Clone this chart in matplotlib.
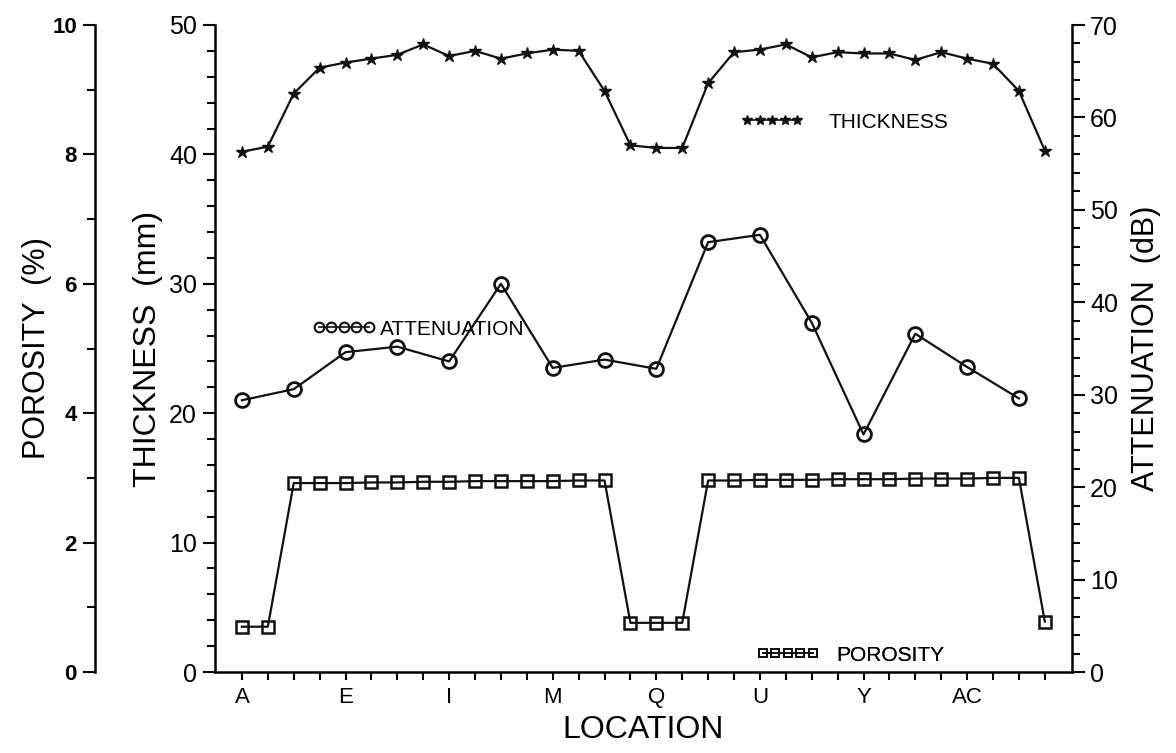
import matplotlib
matplotlib.use("Agg")
import matplotlib.pyplot as plt
from matplotlib.lines import Line2D
from matplotlib.ticker import MultipleLocator

plt.rcParams['font.family'] = ['Liberation Sans Narrow', 'Liberation Sans', 'DejaVu Sans']

# location index 0 = A ... 31 = AF
loc_idx = list(range(32))
tick_names = ['A', 'E', 'I', 'M', 'Q', 'U', 'Y', 'AC']

thickness = [40.2, 40.6, 44.7, 46.7, 47.1, 47.4, 47.7, 48.5, 47.6, 48.0,
             47.4, 47.8, 48.1, 48.0, 44.9, 40.7, 40.5, 40.5, 45.5, 47.9,
             48.1, 48.5, 47.5, 47.9, 47.8, 47.8, 47.3, 47.9, 47.4, 47.0,
             44.9, 40.3]

att_idx = list(range(0, 31, 2))
attenuation = [29.4, 30.6, 34.6, 35.2, 33.6, 42.0, 32.9, 33.8,
               32.8, 46.5, 47.3, 37.8, 25.7, 36.6, 33.0, 29.6]

porosity = [0.70, 0.70, 2.92, 2.92, 2.92, 2.93, 2.93, 2.94, 2.94, 2.95,
            2.95, 2.95, 2.95, 2.96, 2.96, 0.76, 0.76, 0.76, 2.96, 2.96,
            2.97, 2.97, 2.97, 2.98, 2.98, 2.98, 2.99, 2.99, 2.99, 3.00,
            3.00, 0.78]

fig = plt.figure(figsize=(11.76, 7.53), dpi=100)
ax = fig.add_axes([215/1176, 81/753, 857/1176, 647/753])
ax_a = ax.twinx()
ax_p = ax.twinx()

lw = 1.6
ax.plot(loc_idx, thickness, '-', color='#111111', lw=lw, marker='*', ms=9,
        mfc='#111111', mec='#111111')
ax_a.plot(att_idx, attenuation, '-', color='#111111', lw=lw, marker='o', ms=10,
          mfc='none', mec='#111111', mew=2)
ax_p.plot(loc_idx, porosity, '-', color='#111111', lw=lw, marker='s', ms=9,
          mfc='none', mec='#111111', mew=1.8)

ax.set_xlim(-1.04, 32.05)
ax.set_ylim(0, 50)
ax_a.set_ylim(0, 70)
ax_p.set_ylim(0, 10)

ax.set_xticks(loc_idx)
ax.set_xticklabels([tick_names[i // 4] if i % 4 == 0 and i // 4 < len(tick_names) else '' for i in loc_idx],
                   fontsize=16)
ax.tick_params(axis='x', direction='out', length=6, width=1.5, pad=5)

ax.yaxis.set_major_locator(MultipleLocator(10))
ax.yaxis.set_minor_locator(MultipleLocator(2))
ax.tick_params(axis='y', which='major', direction='out', length=9, width=1.5, labelsize=18, pad=4)
ax.tick_params(axis='y', which='minor', direction='out', length=6, width=1.5)

ax_a.yaxis.set_major_locator(MultipleLocator(10))
ax_a.yaxis.set_minor_locator(MultipleLocator(2))
ax_a.tick_params(axis='y', which='major', direction='out', length=9, width=1.5, labelsize=18, pad=4)
ax_a.tick_params(axis='y', which='minor', direction='out', length=6, width=1.5)

ax_p.spines['left'].set_position(('axes', -0.14))
ax_p.spines['left'].set_visible(True)
ax_p.yaxis.set_label_position('left')
ax_p.yaxis.set_ticks_position('left')
ax_p.yaxis.set_major_locator(MultipleLocator(2))
ax_p.yaxis.set_minor_locator(MultipleLocator(1))
ax_p.tick_params(axis='y', which='major', direction='out', length=9, width=1.5, labelsize=16, pad=4)
ax_p.tick_params(axis='y', which='minor', direction='out', length=6, width=1.5)
for t in ax_p.get_yticklabels():
    t.set_fontweight('bold')

for a in (ax, ax_a, ax_p):
    a.spines['top'].set_visible(False)
    for s in a.spines.values():
        s.set_linewidth(1.8)
ax.spines['right'].set_visible(False)
ax_a.spines['left'].set_visible(False)
ax_a.spines['bottom'].set_visible(False)
ax_p.spines['right'].set_visible(False)
ax_p.spines['bottom'].set_visible(False)

ax.set_xlabel('LOCATION', fontsize=23, labelpad=5)
ax.set_ylabel('THICKNESS  (mm)', fontsize=23, labelpad=4)
ax_a.set_ylabel('ATTENUATION  (dB)', fontsize=22, labelpad=9)
ax_p.set_ylabel('POROSITY  (%)', fontsize=22, labelpad=0)

# legends, one per series
def add_legend(handle, label, x, y, pad):
    leg = ax.legend(handles=[handle], labels=[label], loc='center left',
                    bbox_to_anchor=(x, y), frameon=False, numpoints=5,
                    handlelength=3.0, handletextpad=pad, borderpad=0,
                    borderaxespad=0, fontsize=15)
    ax.add_artist(leg)

h_att = Line2D([], [], color='#111111', lw=1.2, marker='o', ms=7, mfc='none', mew=1.5)
h_thk = Line2D([], [], color='#111111', lw=1.2, marker='*', ms=7)
h_por = Line2D([], [], color='#111111', lw=1.2, marker='s', ms=6, mfc='none', mew=1.4)
add_legend(h_att, 'ATTENUATION', 0.114, 0.530, 0.25)
add_legend(h_thk, 'THICKNESS', 0.614, 0.850, 1.2)
add_legend(h_por, 'POROSITY', 0.632, 0.026, 0.8)

fig.savefig('out.png', dpi=100)
